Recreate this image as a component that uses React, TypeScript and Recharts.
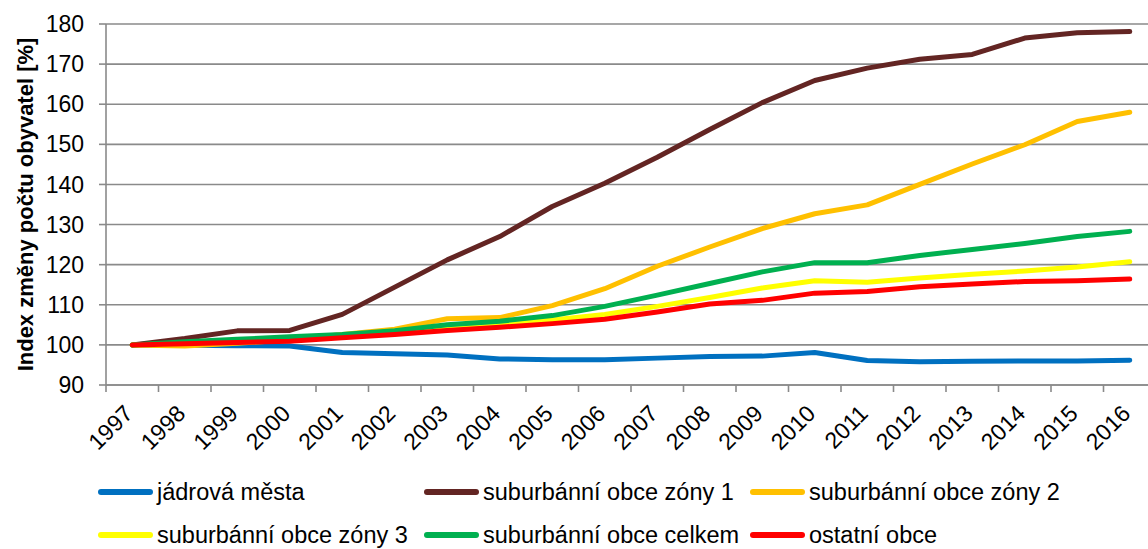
import React from 'react';
import { LineChart, Line, XAxis, YAxis, CartesianGrid } from 'recharts';

const years = ['1997', '1998', '1999', '2000', '2001', '2002', '2003', '2004', '2005', '2006',
  '2007', '2008', '2009', '2010', '2011', '2012', '2013', '2014', '2015', '2016'];

const jadrovaMesta = [100, 99.9, 99.8, 99.7, 98.1, 97.8, 97.5, 96.5, 96.3, 96.3, 96.7, 97.1, 97.2, 98.1, 96.1, 95.8, 95.9, 96.0, 96.0, 96.2];
const zona1 = [100, 101.6, 103.5, 103.6, 107.6, 114.4, 121.2, 127.0, 134.5, 140.3, 146.8, 153.7, 160.4, 165.9, 169.0, 171.2, 172.4, 176.5, 177.8, 178.1];
const zona2 = [100, 99.7, 100.4, 101.3, 102.6, 103.9, 106.5, 106.8, 109.8, 114.0, 119.6, 124.4, 129.0, 132.7, 134.9, 140.0, 145.1, 149.9, 155.7, 158.0];
const zona3 = [100, 100.4, 100.9, 101.5, 102.1, 102.9, 104.2, 105.0, 106.2, 107.6, 109.6, 111.8, 114.2, 116.0, 115.6, 116.7, 117.6, 118.4, 119.4, 120.7];
const celkem = [100, 100.8, 101.4, 102.0, 102.6, 103.5, 105.0, 105.9, 107.3, 109.6, 112.4, 115.3, 118.2, 120.5, 120.5, 122.3, 123.8, 125.3, 127.0, 128.3];
const ostatni = [100, 100.3, 100.6, 100.9, 101.8, 102.6, 103.6, 104.4, 105.3, 106.4, 108.2, 110.2, 111.1, 112.9, 113.3, 114.5, 115.2, 115.8, 116.0, 116.4];

const yTicks = [90, 100, 110, 120, 130, 140, 150, 160, 170, 180];
// whole numbers = boundaries between years (tick marks), half steps = year centres (labels)
const xTicks = Array.from({ length: years.length * 2 + 1 }, (_, i) => i / 2);

const series = [
  { key: 'jadrova', name: 'jádrová města', color: '#0070C0', values: jadrovaMesta },
  { key: 'zona1', name: 'suburbánní obce zóny 1', color: '#632523', values: zona1 },
  { key: 'zona2', name: 'suburbánní obce zóny 2', color: '#FFC000', values: zona2 },
  { key: 'zona3', name: 'suburbánní obce zóny 3', color: '#FFFF00', values: zona3 },
  { key: 'celkem', name: 'suburbánní obce celkem', color: '#00B050', values: celkem },
  { key: 'ostatni', name: 'ostatní obce', color: '#FF0000', values: ostatni },
];

const data = years.map((year, i) => {
  const row: Record<string, string | number> = { year, pos: i + 0.5 };
  series.forEach((s) => { row[s.key] = s.values[i]; });
  return row;
});

const FONT = '"Liberation Sans", Arial, sans-serif';
const GRID = '#8a8a8a';

const XTick = (props: any) => {
  const { x, y, payload } = props;
  const v = payload.value as number;
  if (Number.isInteger(v)) {
    return <line x1={x} y1={y} x2={x} y2={y + 7} stroke={GRID} strokeWidth={1.6} />;
  }
  return (
    <g transform={`translate(${x + 2},${y + 30})`}>
      <text x={0} y={0} textAnchor="end" transform="rotate(-45)" fontSize={23} fontFamily={FONT} fill="#000">
        {years[Math.floor(v)]}
      </text>
    </g>
  );
};

const YTitle = (props: any) => {
  const vb = props.viewBox || {};
  const cx = 25;
  const cy = (vb.y || 0) + (vb.height || 0) / 2;
  return (
    <text x={cx} y={cy} transform={`rotate(-90, ${cx}, ${cy})`} textAnchor="middle" dominantBaseline="central"
      fontSize={22} fontWeight="bold" fontFamily={FONT} fill="#000">
      Index změny počtu obyvatel [%]
    </text>
  );
};

const ChartLegend = () => (
  <div style={{ position: 'absolute', left: 98, top: 470, display: 'grid', gridTemplateColumns: 'repeat(3, 326px)', fontFamily: FONT, fontSize: 23.5, lineHeight: '20px' }}>
    {series.map((s) => (
      <div key={s.key} style={{ display: 'flex', alignItems: 'center', height: 43, whiteSpace: 'nowrap' }}>
        <span style={{ display: 'inline-block', width: 55, height: 6, borderRadius: 3, background: s.color, marginRight: 4 }} />
        <span>{s.name}</span>
      </div>
    ))}
  </div>
);

export default function App() {
  return (
    <div style={{ position: 'absolute', left: 0, top: 0, width: 1148, height: 549, overflow: 'hidden', background: '#fff' }}>
      <LineChart width={1164} height={549} data={data} margin={{ top: 24, right: 8, left: 0, bottom: 84 }}>
        <CartesianGrid vertical={false} stroke={GRID} strokeWidth={1.6} />
        <XAxis dataKey="pos" type="number" domain={[0, years.length]} ticks={xTicks} allowDataOverflow
          height={80} interval={0} tickSize={0} tickMargin={0} tickLine={false}
          axisLine={{ stroke: GRID, strokeWidth: 1.6 }} tick={<XTick />} />
        <YAxis domain={[90, 180]} ticks={yTicks} width={106} interval={0} tickSize={7} tickMargin={15}
          axisLine={{ stroke: GRID, strokeWidth: 1.6 }} tickLine={{ stroke: GRID, strokeWidth: 1.6 }}
          tick={{ fontSize: 23, fontFamily: FONT, fill: '#000' }} label={<YTitle />} />
        {series.map((s) => (
          <Line key={s.key} type="linear" dataKey={s.key} name={s.name} stroke={s.color} strokeWidth={5}
            strokeLinecap="round" strokeLinejoin="round" dot={false} isAnimationActive={false} />
        ))}
      </LineChart>
      <ChartLegend />
    </div>
  );
}
